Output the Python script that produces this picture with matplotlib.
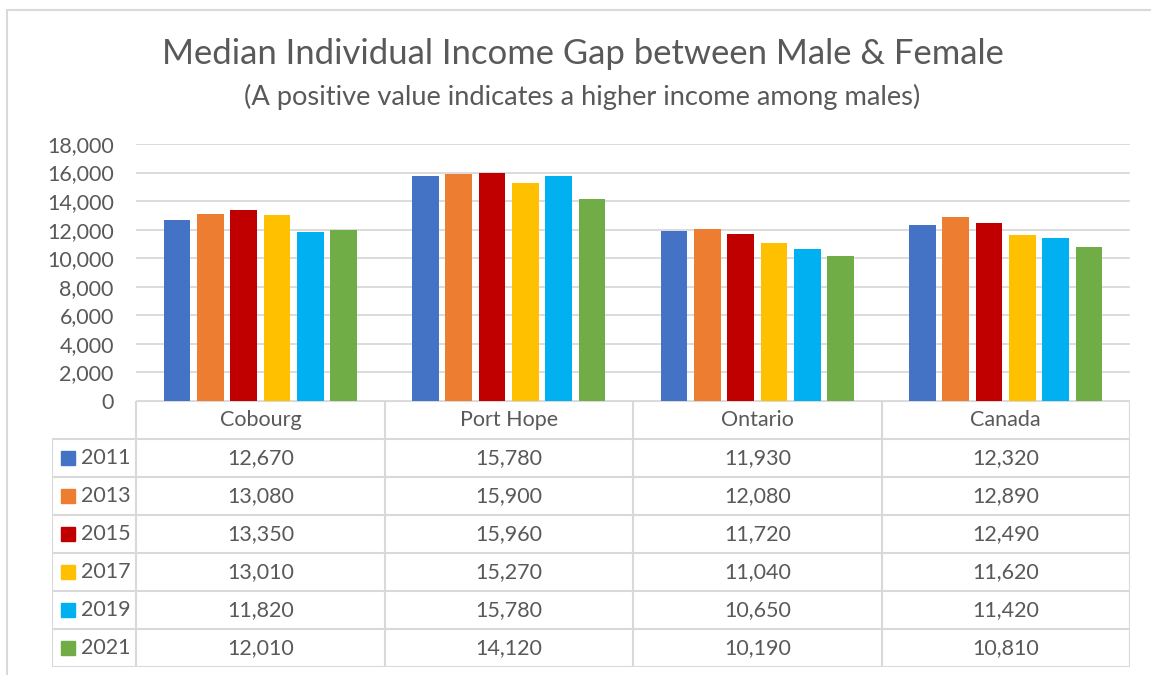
import matplotlib.pyplot as plt
from matplotlib.patches import Rectangle

places = ['Cobourg', 'Port Hope', 'Ontario', 'Canada']
years = ['2011', '2013', '2015', '2017', '2019', '2021']
gap_2011 = [12670, 15780, 11930, 12320]
gap_2013 = [13080, 15900, 12080, 12890]
gap_2015 = [13350, 15960, 11720, 12490]
gap_2017 = [13010, 15270, 11040, 11620]
gap_2019 = [11820, 15780, 10650, 11420]
gap_2021 = [12010, 14120, 10190, 10810]
series = [gap_2011, gap_2013, gap_2015, gap_2017, gap_2019, gap_2021]
colors = ['#4472C4', '#ED7D31', '#C00000', '#FFC000', '#00B0F0', '#70AD47']
yticks = list(range(0, 18001, 2000))

txt = '#595959'
line = '#D9D9D9'
fs = 15.5
plt.rcParams['font.family'] = ['Lato', 'DejaVu Sans']

W, H = 1151, 675
fig = plt.figure(figsize=(W / 100, H / 100), dpi=100)

def box(x0, y0, x1, y1):
    # pixel box (top-left origin) -> figure fraction rect
    return [x0 / W, 1 - y1 / H, (x1 - x0) / W, (y1 - y0) / H]

# outer chart frame
fig.patches.append(Rectangle((7 / W, -0.1), 1.2, 1 - 10 / H + 0.1, transform=fig.transFigure,
                             fill=False, edgecolor=line, linewidth=1.5))

fig.text(583 / W, 1 - 54 / H, 'Median Individual Income Gap between Male & Female',
         ha='center', va='center', fontsize=24.9, color=txt)
fig.text(582 / W, 1 - 97 / H, '(A positive value indicates a higher income among males)',
         ha='center', va='center', fontsize=19.6, color=txt)

# bar chart
ax = fig.add_axes(box(136, 144, 1130, 401))
step, width = 0.134, 0.1075
for i, (vals, c) in enumerate(zip(series, colors)):
    xs = [k + (i - 2.5) * step for k in range(len(places))]
    ax.bar(xs, vals, width=width, color=c, zorder=3)
ax.set_xlim(-0.5, 3.5)
ax.set_ylim(0, 18000)
ax.set_yticks(yticks)
ax.set_yticklabels([f'{v:,}' for v in yticks], fontsize=fs, color=txt)
ax.yaxis.grid(True, color=line, linewidth=1.3, zorder=0)
ax.set_xticks([])
ax.tick_params(axis='y', length=0, pad=16)
for s in ax.spines.values():
    s.set_visible(False)

# data table
label_w = (136 - 52) / 248
tab = fig.add_axes(box(52, 401, 1130, 667))
tab.set_xlim(-0.5 - label_w, 3.5)
tab.set_ylim(len(years) + 1, 0)
tab.axis('off')
lk = dict(color=line, linewidth=1.5, solid_capstyle='butt')
x_left = -0.5 - label_w
tab.plot([-0.5, 3.5], [0, 0], **lk)
for r in range(1, len(years) + 2):
    tab.plot([x_left, 3.5], [r, r], **lk)
tab.plot([x_left, x_left], [1, len(years) + 1], **lk)
for k in range(len(places) + 1):
    tab.plot([k - 0.5, k - 0.5], [0, len(years) + 1], **lk)

for k, p in enumerate(places):
    tab.text(k, 0.5, p, ha='center', va='center', fontsize=fs, color=txt)
for r, (yr, vals, c) in enumerate(zip(years, series, colors)):
    y = r + 1.5
    tab.add_patch(Rectangle((x_left + 9 / 248, y - 7 / 38), 14 / 248, 14 / 38, color=c))
    tab.text(x_left + 29 / 248, y, yr, ha='left', va='center', fontsize=fs, color=txt)
    for k, v in enumerate(vals):
        tab.text(k, y, f'{v:,}', ha='center', va='center', fontsize=fs, color=txt)

fig.savefig('out.png', dpi=100)
